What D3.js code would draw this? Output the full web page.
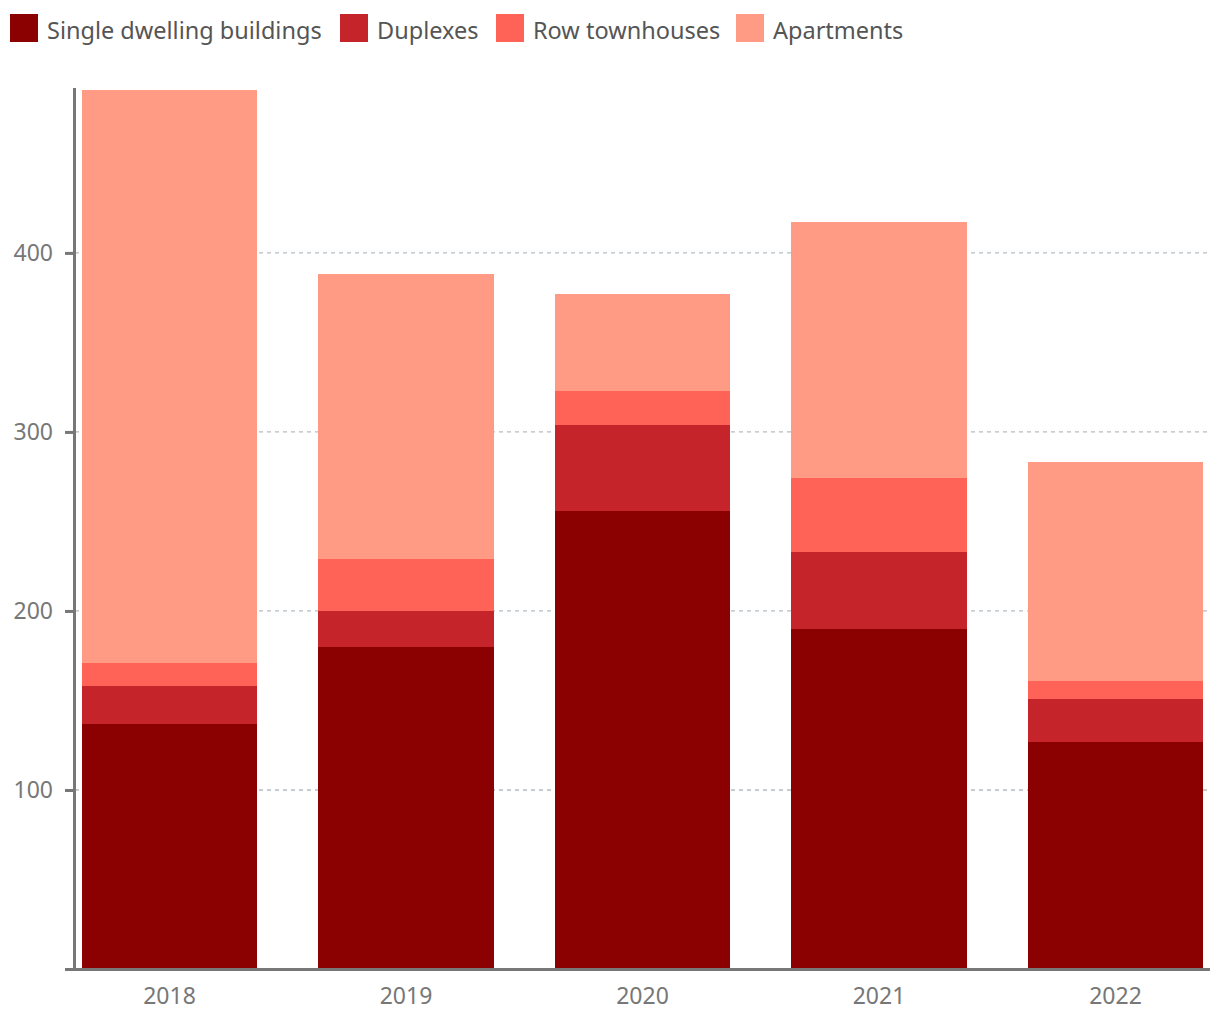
<!DOCTYPE html>
<html>
<head>
<meta charset="utf-8">
<script src="https://cdn.jsdelivr.net/npm/d3@7"></script>
<style>
body { margin: 0; background: #fff; }
svg { display: block; }
</style>
</head>
<body>
<svg id="chart" width="1220" height="1020"></svg>
<script>
const years = ["2018", "2019", "2020", "2021", "2022"];
const seriesNames = ["Single dwelling buildings", "Duplexes", "Row townhouses", "Apartments"];
const singleDwelling = [137, 180, 256, 190, 127];
const duplexes = [21, 20, 48, 43, 24];
const rowTownhouses = [13, 29, 19, 41, 10];
const apartments = [320, 159, 54, 143, 122];
const yTicks = [100, 200, 300, 400];
const colors = ["#8b0000", "#c4242a", "#ff6257", "#ff9a85"];

const seriesValues = [singleDwelling, duplexes, rowTownhouses, apartments];
const rows = years.map((y, i) => {
  const r = { year: y };
  seriesNames.forEach((s, j) => r[s] = seriesValues[j][i]);
  return r;
});

const svg = d3.select("#chart");
const font = "'Noto Sans', sans-serif";

const x = d3.scaleBand().domain(years).range([82, 1203]).paddingInner(0.26).paddingOuter(0);
const stack = d3.stack().keys(seriesNames);
const stacked = stack(rows);
const maxTotal = d3.max(stacked[stacked.length - 1], d => d[1]);
const y = d3.scaleLinear().domain([0, maxTotal]).range([969, 90]);

// gridlines
svg.append("g").selectAll("line").data(yTicks).join("line")
  .attr("x1", 75).attr("x2", 1210)
  .attr("y1", d => y(d)).attr("y2", d => y(d))
  .attr("stroke", "#b5bec3").attr("stroke-width", 1.3)
  .attr("stroke-dasharray", "4,4");

// bars
svg.append("g").attr("shape-rendering", "crispEdges")
  .selectAll("g").data(stacked).join("g")
  .attr("fill", (d, i) => colors[i])
  .selectAll("rect").data(d => d).join("rect")
  .attr("x", d => x(d.data.year))
  .attr("width", x.bandwidth())
  .attr("y", d => y(d[1]))
  .attr("height", d => y(d[0]) - y(d[1]));

// y axis
const yAxis = d3.axisLeft(y).tickValues(yTicks).tickSize(10).tickPadding(12);
const gy = svg.append("g").attr("transform", "translate(75,0)").call(yAxis);
gy.select(".domain").remove();
gy.selectAll(".tick line").attr("stroke", "#777").attr("stroke-width", 3);
gy.selectAll(".tick text").attr("fill", "#777").style("font-family", font).style("font-size", "23px");
svg.append("line").attr("x1", 74.5).attr("x2", 74.5).attr("y1", 88).attr("y2", 971)
  .attr("stroke", "#777").attr("stroke-width", 3);

// x axis
const xAxis = d3.axisBottom(x).tickSize(0).tickPadding(19);
const gx = svg.append("g").attr("transform", "translate(0,969)").call(xAxis);
gx.select(".domain").remove();
gx.selectAll(".tick text").attr("fill", "#777").style("font-family", font).style("font-size", "23px");
svg.append("line").attr("x1", 65).attr("x2", 1210).attr("y1", 969.5).attr("y2", 969.5)
  .attr("stroke", "#777").attr("stroke-width", 3);

// legend
const legendX = [10, 340, 496, 736];
const lg = svg.append("g").selectAll("g").data(seriesNames).join("g")
  .attr("transform", (d, i) => `translate(${legendX[i]},14)`);
lg.append("rect").attr("width", 28).attr("height", 28).attr("fill", (d, i) => colors[i]);
lg.append("text").attr("x", 37).attr("y", 24.5).text(d => d)
  .attr("fill", "#555").style("font-family", font).style("font-size", "23.5px");
</script>
</body>
</html>
